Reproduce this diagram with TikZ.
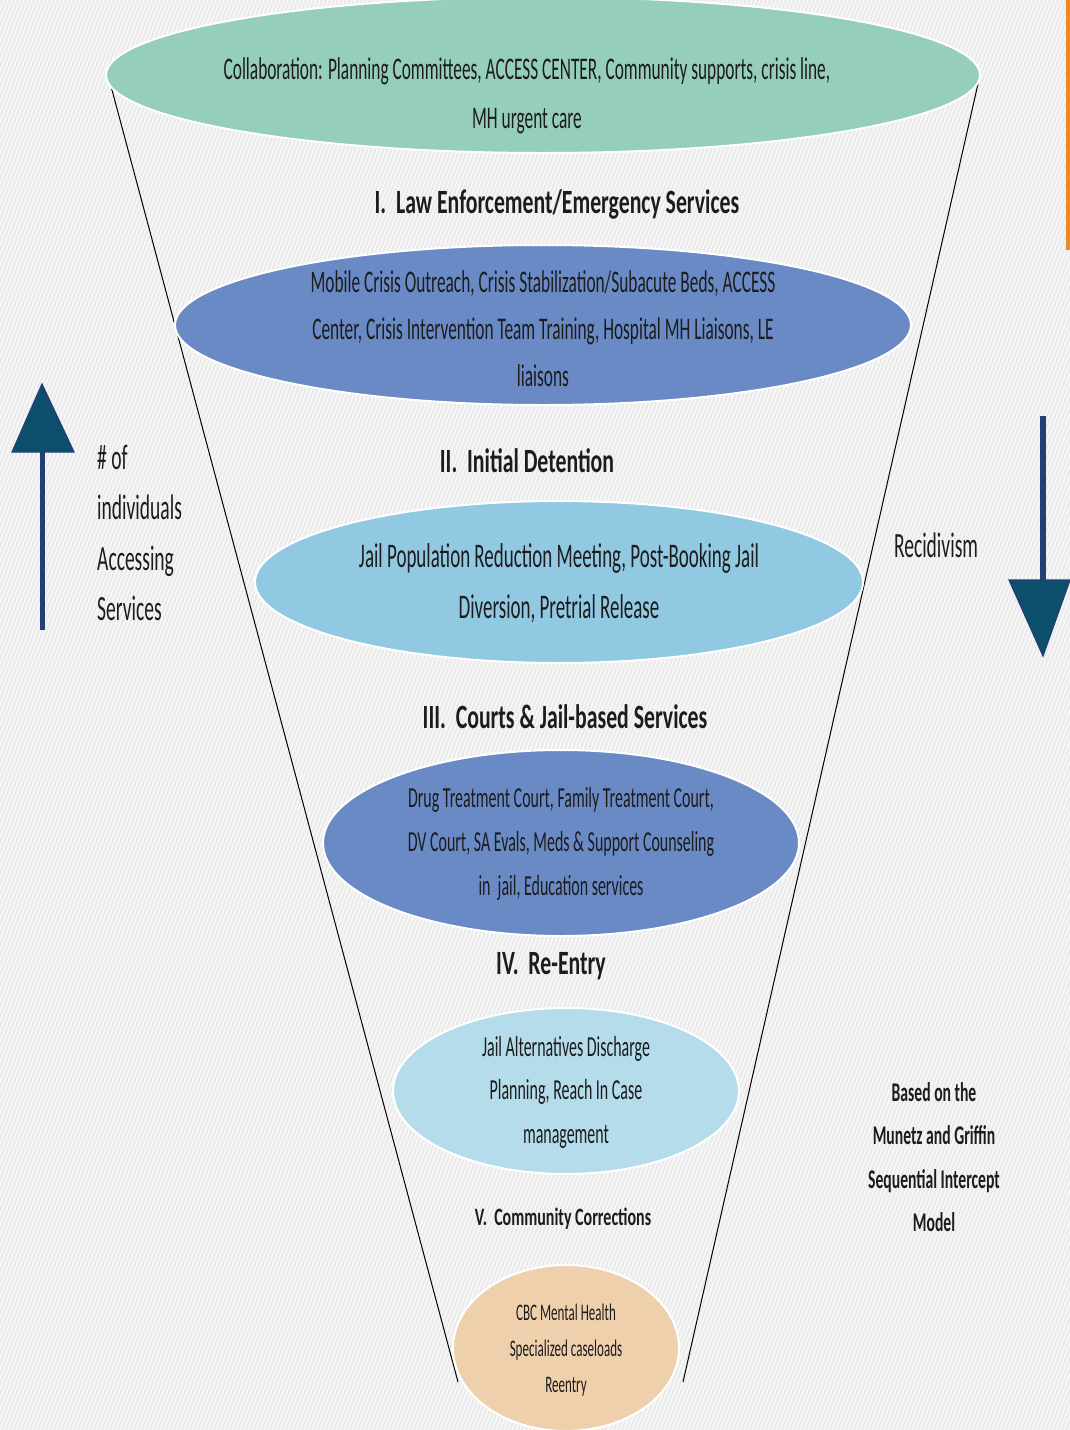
\documentclass[tikz,border=0pt]{standalone}
\usepackage{fontspec}
\setmainfont{Carlito}
\newfontfamily\bodyf{Carlito}[FakeStretch=0.55]
\newfontfamily\ttlf{Carlito}[FakeStretch=0.64]
\newfontfamily\notef{Carlito}[FakeStretch=0.58]
\usetikzlibrary{shapes.geometric}
\definecolor{bgcol}{HTML}{EAEAEA}
\definecolor{stripe}{HTML}{F8F8F8}
\definecolor{mint}{HTML}{95CEBB}
\definecolor{midblue}{HTML}{6A8AC6}
\definecolor{skyblue}{HTML}{91C9E2}
\definecolor{paleblue}{HTML}{B4DCEA}
\definecolor{peach}{HTML}{EFD0AD}
\definecolor{arrowfill}{HTML}{0B4F6C}
\definecolor{arrowedge}{HTML}{243F73}
\definecolor{txt}{HTML}{1C1C1C}
\definecolor{orangeline}{HTML}{E8892B}
\tikzset{
  ell/.style={ellipse, draw=white, line width=2pt, inner sep=0pt},
  body/.style={text=txt, align=center, inner sep=0pt},
  ttl/.style={text=txt, inner sep=0pt, font=\ttlf\bfseries\fontsize{34}{36}\selectfont},
  funnel/.style={draw=black, line width=1pt},
  bigarrow/.style={fill=arrowfill, draw=arrowedge, line width=1.2pt, line join=miter}
}
\begin{document}
\begin{tikzpicture}[x=1pt,y=-1pt]
\useasboundingbox (0,0) rectangle (1070,1430);
\fill[bgcol] (0,0) rectangle (1070,1430);
\begin{scope}
\clip (0,0) rectangle (1070,1430);
\foreach \k in {-560,-556,...,1070}{
  \draw[stripe, line width=1.6pt] (\k,1430) -- (\k+560,0);
}
\end{scope}
% orange accent
\fill[orangeline] (1066,0) rectangle (1070,250);
% funnel
\coordinate (lt) at (108,75);
\coordinate (lb) at (458,1382);
\coordinate (rt) at (980,75);
\coordinate (rb) at (683,1382);
\draw[funnel] (lt) -- (lb);
\draw[funnel] (rt) -- (rb);
% ellipses
\node[ell, fill=mint, minimum width=874pt, minimum height=156pt] (e1) at (543,75) {};
\node[body, font=\bodyf\fontsize{31.5}{49}\selectfont] (t1) at (527,96) {Collaboration: Planning Committees, ACCESS CENTER, Community supports, crisis line,\\MH urgent care};
\node[ttl] (h1) at (557,204) {I.\ \ Law Enforcement/Emergency Services};
\node[ell, fill=midblue, minimum width=736pt, minimum height=160pt] (e2) at (543,325) {};
\node[body, font=\bodyf\fontsize{31.5}{47}\selectfont] (t2) at (543,329) {Mobile Crisis Outreach, Crisis Stabilization/Subacute Beds, ACCESS\\Center, Crisis Intervention Team Training, Hospital MH Liaisons, LE\\liaisons};
\node[ttl] (h2) at (527,461) {II.\ \ Initial Detention};
\node[ell, fill=skyblue, minimum width=608pt, minimum height=162pt] (e3) at (559,582) {};
\node[body, font=\bodyf\fontsize{34.5}{51}\selectfont] (t3) at (559,583) {Jail Population Reduction Meeting, Post-Booking Jail\\Diversion, Pretrial Release};
\node[ttl] (h3) at (565,717) {III.\ \ Courts \& Jail-based Services};
\node[ell, fill=midblue, minimum width=476pt, minimum height=186pt] (e4) at (561,843) {};
\node[body, font=\bodyf\fontsize{29}{44}\selectfont] (t4) at (561,844) {Drug Treatment Court, Family Treatment Court,\\DV Court, SA Evals, Meds \& Support Counseling\\in\ \ jail, Education services};
\node[ttl] (h4) at (551,966) {IV.\ \ Re-Entry};
\node[ell, fill=paleblue, minimum width=346pt, minimum height=166pt] (e5) at (566,1091) {};
\node[body, font=\bodyf\fontsize{29}{43.5}\selectfont] (t5) at (566,1092) {Jail Alternatives Discharge\\Planning, Reach In Case\\management};
\node[text=txt, inner sep=0pt, font=\ttlf\bfseries\fontsize{25}{27}\selectfont] (h5) at (563,1219) {V.\ \ Community Corrections};
\node[ell, fill=peach, minimum width=226pt, minimum height=166pt] (e6) at (566,1348) {};
\node[body, font=\bodyf\fontsize{23.7}{36}\selectfont] (t6) at (566,1350) {CBC Mental Health\\Specialized caseloads\\Reentry};
% left arrow
\fill[arrowedge] (40,452) rectangle (45,630);
\draw[bigarrow] (12,452) -- (74,452) -- (42,384) -- cycle;
\node[text=txt, align=left, anchor=west, inner sep=0pt, font=\bodyf\fontsize{35.5}{50.5}\selectfont] (lbl) at (97,533) {\# of\\individuals\\Accessing\\Services};
% right arrow
\fill[arrowedge] (1040,416) rectangle (1046,582);
\draw[bigarrow] (1009,580) -- (1070,580) -- (1043,656) -- cycle;
\node[text=txt, inner sep=0pt, font=\bodyf\fontsize{35.5}{38}\selectfont] (rec) at (936,545) {Recidivism};
% note
\node[text=txt, align=center, inner sep=0pt, font=\notef\bfseries\fontsize{27}{43.5}\selectfont] (note) at (934,1157) {Based on the\\Munetz and Griffin\\Sequential Intercept\\Model};
\end{tikzpicture}
\end{document}
